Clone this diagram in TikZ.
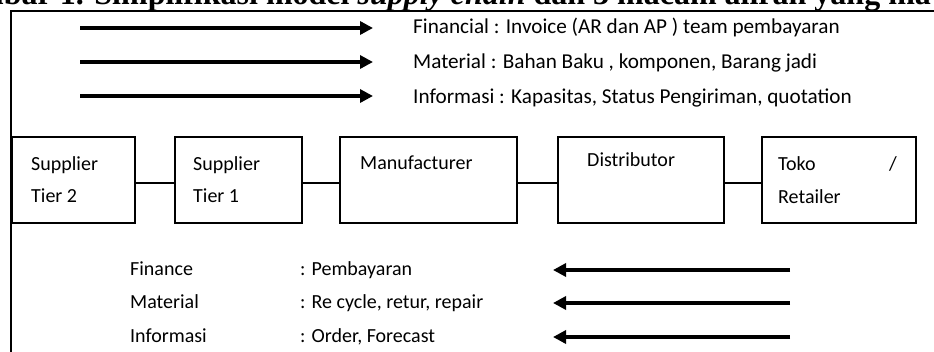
\documentclass[tikz,border=0pt]{standalone}
\usepackage{fontspec}
\setmainfont{Carlito}
\newfontfamily\headfont{Liberation Serif}
\usetikzlibrary{arrows.meta}
\tikzset{
  frameline/.style={line width=2pt},
  flowbox/.style={draw, line width=1.4pt, minimum height=86pt, inner sep=0pt},
  link/.style={line width=1.4pt},
  bigarrow/.style={line width=3.8pt, -{Triangle[length=13pt,width=13pt]}},
  lbl/.style={anchor=base west, inner sep=0pt, font=\fontsize{20}{24}\selectfont},
  toplbl/.style={lbl, font=\fontsize{21.2}{25}\selectfont},
  headtxt/.style={anchor=base west, inner sep=0pt, font=\headfont\bfseries\fontsize{32}{36}\selectfont}
}
\begin{document}
\begin{tikzpicture}[x=1pt,y=-1pt]
\clip (0,0) rectangle (934,351);
% clipped heading
\node[headtxt] (head) at (-64,4) {Gambar 1. Simplifikasi model \textit{supply chain} dan 3 macam aliran yang ma};
% frame
\draw[frameline] (934,11) -- (11,11) -- (11,352);
% top arrows
\coordinate (ta1) at (80,28); \coordinate (tb1) at (373,28);
\coordinate (ta2) at (80,62); \coordinate (tb2) at (373,62);
\coordinate (ta3) at (80,96); \coordinate (tb3) at (373,96);
\draw[bigarrow] (ta1) -- (tb1);
\draw[bigarrow] (ta2) -- (tb2);
\draw[bigarrow] (ta3) -- (tb3);
\node[toplbl] (t1) at (413,33) {Financial : Invoice (AR dan AP ) team pembayaran};
\node[toplbl] (t2) at (413,68) {Material : Bahan Baku , komponen, Barang jadi};
\node[toplbl] (t3) at (413,103) {Informasi : Kapasitas, Status Pengiriman, quotation};
% boxes
\node[flowbox, minimum width=123pt] (b1) at (73.5,180) {};
\node[flowbox, minimum width=127pt] (b2) at (238.5,180) {};
\node[flowbox, minimum width=177pt] (b3) at (428.5,180) {};
\node[flowbox, minimum width=166pt] (b4) at (641,180) {};
\node[flowbox, minimum width=154pt] (b5) at (839,180) {};
\draw[link] ([yshift=-3pt]b1.east) -- ([yshift=-3pt]b2.west);
\draw[link] ([yshift=-3pt]b2.east) -- ([yshift=-3pt]b3.west);
\draw[link] ([yshift=-3pt]b3.east) -- ([yshift=-3pt]b4.west);
\draw[link] ([yshift=-3pt]b4.east) -- ([yshift=-3pt]b5.west);
\node[lbl] (s2a) at (31,170) {Supplier};
\node[lbl] (s2b) at (31,202) {Tier 2};
\node[lbl] (s1a) at (193,170) {Supplier};
\node[lbl] (s1b) at (193,202) {Tier 1};
\node[lbl] (man) at (360,169) {Manufacturer};
\node[lbl] (dis) at (587,166) {Distributor};
\node[lbl] (tok) at (778,170) {Toko};
\node[lbl] (sl) at (889,170) {/};
\node[lbl] (ret) at (778,203) {Retailer};
% bottom labels
\node[lbl] (f1) at (130,275) {Finance};
\node[lbl] (f2) at (300,275) {: Pembayaran};
\node[lbl] (m1) at (130,308) {Material};
\node[lbl] (m2) at (300,308) {: Re cycle, retur, repair};
\node[lbl] (i1) at (130,342) {Informasi};
\node[lbl] (i2) at (300,342) {: Order, Forecast};
% bottom arrows
\coordinate (ba1) at (790,270); \coordinate (bb1) at (553,270);
\coordinate (ba2) at (790,303); \coordinate (bb2) at (553,303);
\coordinate (ba3) at (790,337); \coordinate (bb3) at (553,337);
\draw[bigarrow] (ba1) -- (bb1);
\draw[bigarrow] (ba2) -- (bb2);
\draw[bigarrow] (ba3) -- (bb3);
\end{tikzpicture}
\end{document}
